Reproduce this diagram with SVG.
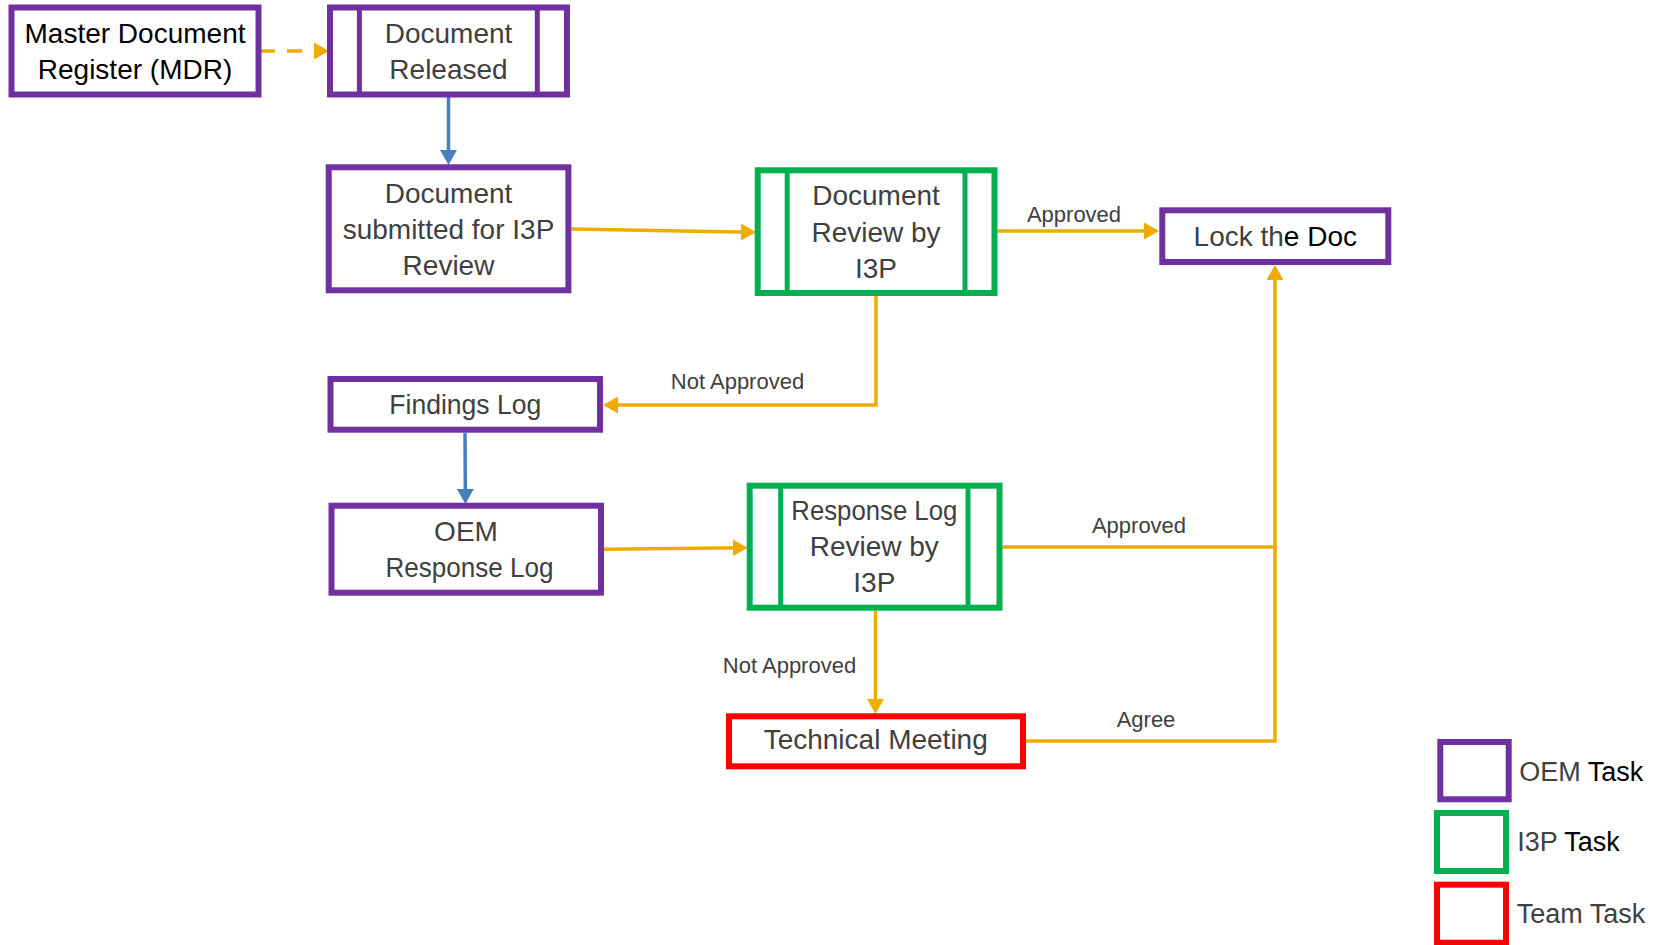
<svg xmlns="http://www.w3.org/2000/svg" width="1662" height="945" viewBox="0 0 1662 945">
<style>
.bg{fill:#ffffff}
.box{fill:#ffffff;stroke-width:6}
.oem{stroke:#7030A0}
.i3p{stroke:#00B050}
.team{stroke:#FF0000}
.bar{stroke-width:5;fill:none}
.t{font-family:"Liberation Sans",Arial,sans-serif;font-size:28px;fill:#404040;text-anchor:middle}
.blk{fill:#000000}
.lbl{font-family:"Liberation Sans",Arial,sans-serif;font-size:22px;fill:#404040;text-anchor:middle}
.leg{font-family:"Liberation Sans",Arial,sans-serif;font-size:27px;fill:#404040}
.or{stroke:#F0AB00;stroke-width:3.5;fill:none}
.bl{stroke:#4A7EBB;stroke-width:3.5;fill:none}
</style>
<defs>
<marker id="ao" markerUnits="userSpaceOnUse" markerWidth="16" markerHeight="17" refX="11" refY="8.5" orient="auto">
<path d="M0,0 L15,8.5 L0,17 z" fill="#F0AB00"/>
</marker>
<marker id="ab" markerUnits="userSpaceOnUse" markerWidth="16" markerHeight="17" refX="11" refY="8.5" orient="auto">
<path d="M0,0 L15,8.5 L0,17 z" fill="#4A7EBB"/>
</marker>
</defs>
<rect class="bg" x="0" y="0" width="1662" height="945"/>

<g id="connectors">
<line class="or" x1="260" y1="51" x2="325" y2="51" stroke-width="4.5" stroke-dasharray="15 12" marker-end="url(#ao)"/>
<line class="bl" x1="448.5" y1="97" x2="448.5" y2="161" marker-end="url(#ab)"/>
<line class="or" x1="571.5" y1="229" x2="752" y2="232.2" marker-end="url(#ao)"/>
<line class="or" x1="997.5" y1="231" x2="1155" y2="231" marker-end="url(#ao)"/>
<path class="or" d="M876,296 V405 H607" marker-end="url(#ao)"/>
<line class="bl" x1="465" y1="432.7" x2="465.4" y2="500" marker-end="url(#ab)"/>
<line class="or" x1="604" y1="549.3" x2="743.6" y2="547.7" marker-end="url(#ao)"/>
<path class="or" d="M1002.5,547 H1275 V269" marker-end="url(#ao)"/>
<path class="or" d="M875.5,611 V710" marker-end="url(#ao)"/>
<path class="or" d="M1026,741 H1275 V547"/>
<text class="lbl" x="1074" y="221.5">Approved</text>
<text class="lbl" x="737.5" y="389.3">Not Approved</text>
<text class="lbl" x="1139" y="533.3">Approved</text>
<text class="lbl" x="789.5" y="672.7">Not Approved</text>
<text class="lbl" x="1146" y="726.7">Agree</text>
</g>

<g id="mdr">
<rect class="box oem" x="11.5" y="7.5" width="247" height="87"/>
<text class="t blk" x="135" y="43.3">Master Document</text>
<text class="t blk" x="135" y="79.3">Register (MDR)</text>
</g>

<g id="doc-released">
<rect class="box oem" x="330" y="7.5" width="237" height="87"/>
<line class="bar oem" x1="359.4" y1="7.5" x2="359.4" y2="94.5"/>
<line class="bar oem" x1="537.3" y1="7.5" x2="537.3" y2="94.5"/>
<text class="t" x="448.5" y="43.3">Document</text>
<text class="t" x="448.5" y="79.3">Released</text>
</g>

<g id="doc-submitted">
<rect class="box oem" x="328.7" y="167.3" width="239.7" height="123"/>
<text class="t" x="448.5" y="203.3">Document</text>
<text class="t" x="448.5" y="239.3">submitted for I3P</text>
<text class="t" x="448.5" y="275.3">Review</text>
</g>

<g id="doc-review">
<rect class="box i3p" x="757.7" y="170.3" width="236.8" height="122.7"/>
<line class="bar i3p" x1="787.2" y1="170.3" x2="787.2" y2="293"/>
<line class="bar i3p" x1="965" y1="170.3" x2="965" y2="293"/>
<text class="t" x="876" y="205">Document</text>
<text class="t" x="876" y="241.7">Review by</text>
<text class="t" x="876" y="278.3">I3P</text>
</g>

<g id="lock-doc">
<rect class="box oem" x="1162.3" y="210.3" width="226" height="51.7"/>
<text class="t" x="1275.3" y="245.7">Lock th<tspan class="blk">e Doc</tspan></text>
</g>

<g id="findings-log">
<rect class="box oem" x="330.5" y="379" width="269.5" height="50.7"/>
<text class="t" x="465.3" y="414.3" textLength="152" lengthAdjust="spacingAndGlyphs">Findings Log</text>
</g>

<g id="oem-response">
<rect class="box oem" x="331.5" y="505.7" width="269.5" height="87"/>
<text class="t" x="466" y="541">OEM</text>
<text class="t" x="469.5" y="576.7" textLength="168" lengthAdjust="spacingAndGlyphs">Response Log</text>
</g>

<g id="response-review">
<rect class="box i3p" x="749.7" y="485.7" width="249.8" height="122"/>
<line class="bar i3p" x1="780.7" y1="485.7" x2="780.7" y2="607.7"/>
<line class="bar i3p" x1="968" y1="485.7" x2="968" y2="607.7"/>
<text class="t" x="874.3" y="520" textLength="166" lengthAdjust="spacingAndGlyphs">Response Log</text>
<text class="t" x="874.3" y="556">Review by</text>
<text class="t" x="874.3" y="592.3">I3P</text>
</g>

<g id="technical-meeting">
<rect class="box team" x="729" y="716.3" width="294" height="50"/>
<text class="t" x="875.7" y="749.3">Technical Meeting</text>
</g>

<g id="legend">
<rect class="box oem" x="1440.3" y="742" width="68.4" height="57.3"/>
<text class="leg" x="1519.3" y="781">OEM<tspan class="blk"> Task</tspan></text>
<rect class="box i3p" x="1437" y="813" width="69" height="58"/>
<text class="leg" x="1517.3" y="850.7">I3P<tspan class="blk"> Task</tspan></text>
<rect class="box team" x="1437" y="884.7" width="69" height="58"/>
<text class="leg" x="1516.7" y="923.3">Team Task</text>
</g>
</svg>
